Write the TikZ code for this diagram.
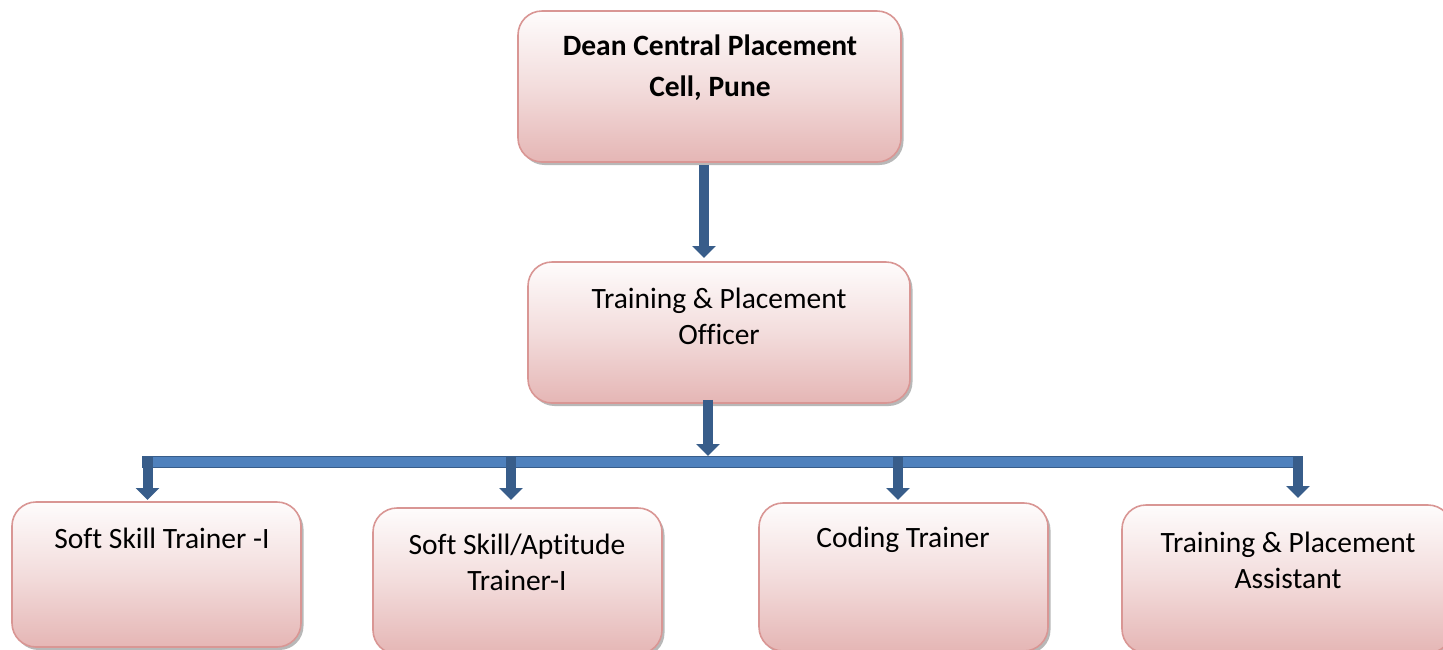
\documentclass[tikz,border=0pt]{standalone}
\usepackage{fontspec}
\setmainfont{Carlito}[Ligatures=NoCommon]
\usetikzlibrary{arrows.meta,shadows}
\definecolor{boxline}{RGB}{217,150,148}
\definecolor{boxtop}{RGB}{254,252,252}
\definecolor{boxbot}{RGB}{229,182,181}
\definecolor{shaftblue}{RGB}{56,93,138}
\definecolor{barblue}{RGB}{79,129,189}
\tikzset{
  orgbox/.style={draw=boxline, line width=1.6pt, rounded corners=24pt,
    top color=boxtop, bottom color=boxbot, middle color=boxtop!55!boxbot,
    drop shadow={shadow xshift=2.5pt, shadow yshift=-3pt, fill=black, opacity=0.28},
    inner sep=0pt},
  lbl/.style={font=\fontsize{29.5}{36}\selectfont, align=center, inner sep=0pt, text=black},
  shaft/.style={draw=shaftblue, line width=10pt,
    -{Triangle[width=23pt, length=12pt]}},
}
\begin{document}
\begin{tikzpicture}[x=1pt, y=-1pt]
\useasboundingbox (0,0) rectangle (1443,649);
% boxes
\node[orgbox, minimum width=383pt, minimum height=151pt] (dean) at (709.5,86.5) {};
\node[orgbox, minimum width=382pt, minimum height=141pt] (tpo) at (719,332.5) {};
\node[orgbox, minimum width=289pt, minimum height=145pt] (b1) at (156.5,574.5) {};
\node[orgbox, minimum width=289pt, minimum height=146pt] (b2) at (517.5,581) {};
\node[orgbox, minimum width=289pt, minimum height=148pt] (b3) at (903.5,577) {};
\node[orgbox, minimum width=330pt, minimum height=148pt] (b4) at (1287,579) {};
% labels
\node[lbl, font=\fontsize{29.5}{41}\selectfont\bfseries] (tdean) at (710,67.5) {Dean Central Placement\\Cell, Pune};
\node[lbl] (ttpo) at (719,316) {Training \& Placement\\Officer};
\node[lbl] (tb1) at (162,538) {Soft Skill Trainer -I};
\node[lbl] (tb2) at (517,562.5) {Soft Skill/Aptitude\\Trainer-I};
\node[lbl] (tb3) at (903,540) {Coding Trainer};
\node[lbl] (tb4) at (1288,560) {Training \& Placement\\Assistant};
% bar
\node[draw=shaftblue, fill=barblue, line width=1pt, minimum width=1160pt, minimum height=11pt, inner sep=0pt] (bar) at (722,461.5) {};
\coordinate (j0) at (708,456);
\coordinate (a1) at (147.5,457);
\coordinate (a2) at (511,457);
\coordinate (a3) at (898,457);
\coordinate (a4) at (1298,457);
% connectors
\draw[shaft, shorten <=2pt, shorten >=2pt] (dean.south -| 704,0) -- (704,260);
\draw[shaft, shorten <=-4pt] (tpo.south -| j0) -- (j0);
\draw[shaft] (a1) -- (a1 |- 0,500);
\draw[shaft] (a2) -- (a2 |- 0,500);
\draw[shaft] (a3) -- (a3 |- 0,500);
\draw[shaft] (a4) -- (a4 |- 0,498);
\end{tikzpicture}
\end{document}
